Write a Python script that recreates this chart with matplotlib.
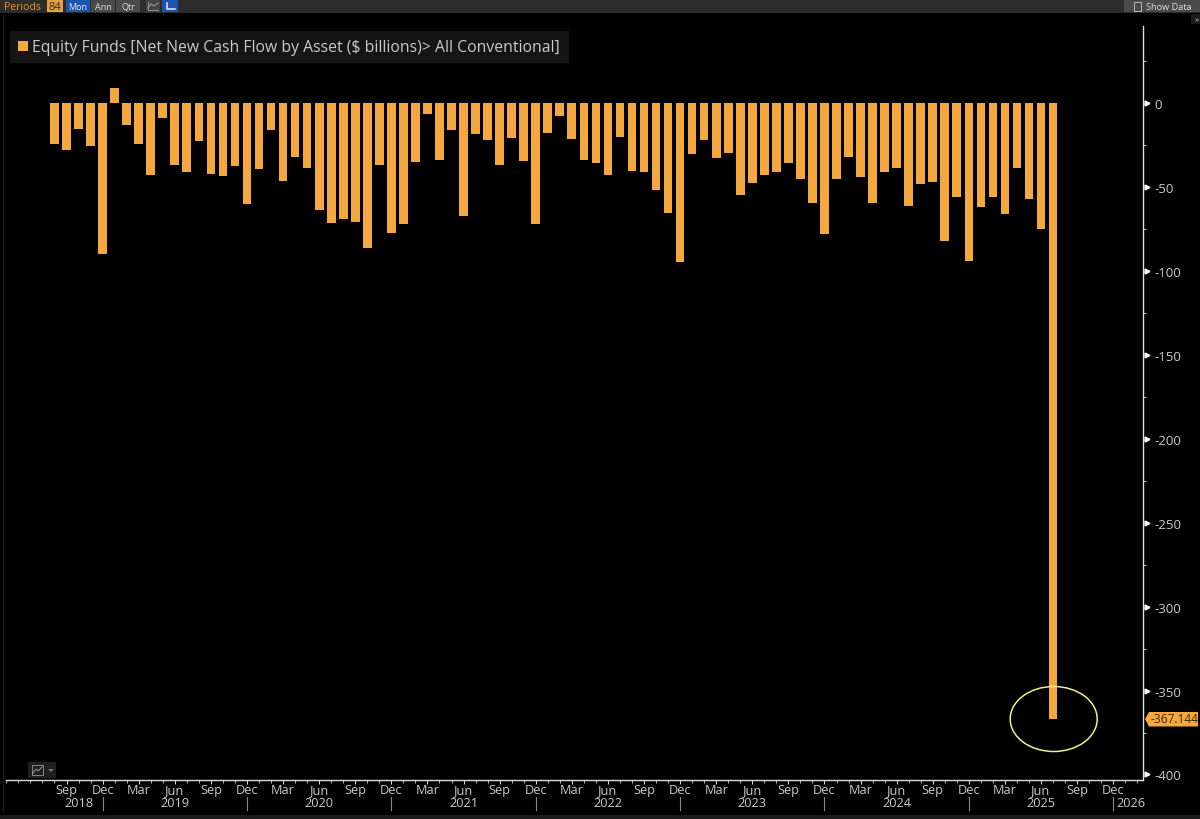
import matplotlib
matplotlib.use("Agg")
import matplotlib.pyplot as plt
from matplotlib.patches import Ellipse, Polygon, Rectangle

plt.rcParams['font.family'] = ['Open Sans', 'DejaVu Sans']

# monthly, Aug 2018 .. Jul 2025
flows = [-24.6, -27.8, -15.3, -25.6, -89.6, 9.1, -12.7, -24.6, -42.7, -8.7,
         -36.6, -41.1, -22.6, -42.1, -43.1, -37.3, -60.2, -39.5, -15.9, -46.3,
         -31.8, -38.5, -63.4, -71.5, -68.9, -70.9, -86.0, -36.6, -77.1, -72.1,
         -35.0, -6.6, -34.0, -15.9, -67.5, -18.5, -22.0, -37.1, -20.7, -34.4,
         -72.1, -17.5, -7.9, -21.3, -33.6, -35.6, -42.9, -20.1, -40.7, -41.1,
         -52.0, -65.6, -94.8, -30.2, -22.2, -32.4, -29.8, -55.0, -47.5, -42.9,
         -41.1, -35.6, -45.1, -59.6, -77.9, -44.9, -31.8, -43.7, -59.6, -41.1,
         -38.9, -61.2, -47.9, -46.9, -82.4, -55.6, -94.2, -61.8, -55.6, -66.3,
         -38.9, -57.0, -75.1, -367.144]
month_labels = ['Sep', 'Dec', 'Mar', 'Jun'] * 22
year_labels = ['2018', '2019', '2020', '2021', '2022', '2023', '2024', '2025', '2026']
year_pos = [2, 10, 22, 34, 46, 58, 70, 82, 89.5]
year_seps = [4, 16, 28, 40, 52, 64, 76, 88]
y_major = [0, -50, -100, -150, -200, -250, -300, -350, -400]
y_minor = [25, -25, -75, -125, -175, -225, -275, -325, -375]

ORANGE = '#f5a83f'
TXT = '#c9c9c9'
W, H = 1200, 820

fig = plt.figure(figsize=(12, 8.2), dpi=100, facecolor='black')

# axes placed so that one month is 12.03 px and 50 units are 83.9 px
left, right, top, bottom = 6, 1143.3, 27, 781
ax = fig.add_axes([left / W, 1 - bottom / H, (right - left) / W, (bottom - top) / H], facecolor='black')
ax.set_xlim(-4.03, 90.5)
ax.set_ylim(-403.3, 46)

months = list(range(len(flows)))
ax.bar(months, flows, width=0.72, color=ORANGE, linewidth=0, zorder=2)

for s in ['left', 'top']:
    ax.spines[s].set_visible(False)
for s in ['right', 'bottom']:
    ax.spines[s].set_color('#dddddd')
    ax.spines[s].set_linewidth(1.0)

ax.yaxis.tick_right()
ax.set_yticks(y_major)
ax.set_yticklabels([str(v) for v in y_major], color=TXT, fontsize=9.5)
ax.set_yticks(y_minor, minor=True)
ax.tick_params(axis='y', which='major', length=0, pad=8)
ax.tick_params(axis='y', which='minor', length=2.5, width=0.8, color='#bbbbbb')
ax.plot([1.003] * len(y_major), y_major, ls='', marker='>', ms=3.5, color='white',
        transform=ax.get_yaxis_transform(), clip_on=False, zorder=5)

# month ticks along the bottom, labelled every quarter
ax.set_xticks(list(range(-4, 91)), minor=True)
label_pos = list(range(1, 89, 3))
ax.set_xticks(label_pos)
ax.set_xticklabels([])
ax.tick_params(axis='x', which='major', length=2.8, width=0.8, color='#cccccc')
ax.tick_params(axis='x', which='minor', length=1.8, width=0.8, color='#aaaaaa')

xform = ax.get_xaxis_transform()
for lab, p in zip(month_labels, label_pos):
    ax.text(p, -0.0125, lab, transform=xform, color=TXT, fontsize=9.2, ha='center', va='center', clip_on=False)
for lab, p in zip(year_labels, year_pos):
    ax.text(p, -0.0300, lab, transform=xform, color=TXT, fontsize=9.2, ha='center', va='center', clip_on=False)
for p in year_seps:
    ax.plot([p, p], [-0.023, -0.040], transform=xform, color='#888888', lw=0.8, clip_on=False)

# pixel overlay for the terminal chrome
ov = fig.add_axes([0, 0, 1, 1], facecolor='none')
ov.set_xlim(0, W)
ov.set_ylim(H, 0)
ov.axis('off')

ov.add_patch(Rectangle((0, 0), W, 13.5, color='#2c2c2c', lw=0))
ov.add_patch(Rectangle((0, 816), W, 4, color='#1c1c1c', lw=0))
ov.plot([3, 3], [14, 812], color='#1a1a1a', lw=1)
ov.text(4, 7, 'Periods', color='#d9963a', fontsize=7.6, va='center')
ov.add_patch(Rectangle((47, 1), 16, 12, color='#e8a048', lw=0))
ov.text(55, 7, '84', color='#3a2a10', fontsize=8, ha='center', va='center')
ov.add_patch(Rectangle((66, 1), 24, 12, color='#1c55b0', lw=0))
ov.text(78, 7, 'Mon', color='#e8e8e8', fontsize=6.5, ha='center', va='center')
ov.add_patch(Rectangle((91, 1), 24, 12, color='#4a4a4a', lw=0))
ov.text(103, 7, 'Ann', color='#dddddd', fontsize=6.5, ha='center', va='center')
ov.add_patch(Rectangle((116, 1), 24, 12, color='#4a4a4a', lw=0))
ov.text(128, 7, 'Qtr', color='#dddddd', fontsize=6.5, ha='center', va='center')
ov.add_patch(Rectangle((146, 1), 14, 12, color='#444444', lw=0))
ov.plot([148, 151, 154, 158], [9, 5, 7, 4], color='#999999', lw=0.8)
ov.plot([148, 148, 158], [3, 11, 11], color='#999999', lw=0.6)
ov.add_patch(Rectangle((162, 1), 16, 12, color='#1c55b0', lw=0))
ov.plot([167, 167, 175], [4, 10, 10], color='#dddddd', lw=1.2)
ov.add_patch(Rectangle((1124, 1), 76, 12, color='#4a4a4a', lw=0))
ov.add_patch(Rectangle((1134, 3), 7, 9, fc='#4a4a4a', ec='#bbbbbb', lw=0.7))
ov.text(1146, 7, 'Show Data', color='#dddddd', fontsize=6.6, va='center')
ov.add_patch(Rectangle((1191, 15), 9, 10, color='#1c1c1c', lw=0))
ov.text(1197, 21, '»', color='#cccccc', fontsize=6, ha='center', va='center')

# legend strip
ov.add_patch(Rectangle((10, 32), 559, 32, color='#151515', lw=0))
ov.add_patch(Rectangle((18, 42), 10, 10, color=ORANGE, lw=0))
ov.text(32, 48, 'Equity Funds [Net New Cash Flow by Asset ($ billions)> All Conventional]',
        color=TXT, fontsize=11.3, va='center')

# circle round the last bar and the last value tag
ov.add_patch(Ellipse((1053.7, 720), 87, 65, fc='none', ec='#efef8a', lw=1.1))
ov.add_patch(Polygon([(1145, 720), (1149, 713), (1198, 713), (1198, 727.5), (1149, 727.5)],
                     closed=True, color=ORANGE, lw=0))
ov.text(1174, 720, '-367.144', color='#3a2a10', fontsize=8.6, ha='center', va='center')

# small chart-type button above the x axis
ov.add_patch(Rectangle((28, 763), 28, 16, color='#1f1f1f', lw=0))
ov.add_patch(Rectangle((32, 766), 11, 10, fc='#1f1f1f', ec='#888888', lw=0.7))
ov.plot([33, 36, 38, 42], [774, 770, 772, 768], color='#999999', lw=0.7)
ov.add_patch(Polygon([(48, 770), (54, 770), (51, 773)], closed=True, color='#777777', lw=0))

fig.savefig('out.png', dpi=100, facecolor='black')
